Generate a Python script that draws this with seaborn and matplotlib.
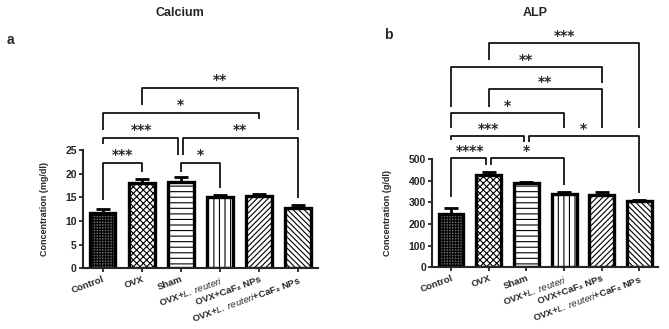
import numpy as np
import pandas as pd
import matplotlib
matplotlib.use('Agg')
import matplotlib.pyplot as plt
import seaborn as sns

# groups
grupos = ['Control', 'OVX', 'Sham', 'OVX+$\\it{L.\\ reuteri}$', 'OVX+CaF₂ NPs',
          'OVX+$\\it{L.\\ reuteri}$+CaF₂ NPs']

# calcium (mg/dl)
calcio = [11.7, 18.0, 18.2, 15.0, 15.3, 12.8]
calcio_sem = [0.9, 0.8, 1.1, 0.5, 0.4, 0.6]

# ALP (g/dl)
alp = [245, 425, 388, 338, 335, 308]
alp_sem = [28, 15, 6, 12, 15, 4]

# comparisons: (i, j, top, leg_i, leg_j, label)
sig_calcio = [
    (0, 1, 22.3, 14.4, 20.3, '***'),
    (2, 3, 22.3, 20.3, 17.0, '*'),
    (0, 2, 27.6, 26.3, 24.0, '***'),
    (2, 5, 27.6, 24.0, 14.8, '**'),
    (0, 4, 32.9, 29.3, 31.6, '*'),
    (1, 5, 38.2, 34.6, 29.3, '**'),
]
sig_alp = [
    (0, 1, 505, 324, 472, '****'),
    (1, 3, 505, 472, 380, '*'),
    (0, 2, 607, 588, 579, '***'),
    (2, 5, 607, 579, 343, '*'),
    (0, 3, 713, 643, 643, '*'),
    (1, 4, 824, 741, 643, '**'),
    (0, 4, 926, 741, 852, '**'),
    (1, 5, 1037, 958, 643, '***'),
]

hachuras = ['++++++', 'xxxxx', '---', '|||', '//////', '\\\\\\\\\\\\']
fundos = ['#666666', 'white', 'white', 'white', 'white', 'white']

sns.set_style('ticks')
plt.rcParams['font.family'] = ['Liberation Sans', 'DejaVu Sans']
plt.rcParams['hatch.linewidth'] = 0.8
plt.rcParams['mathtext.fontset'] = 'custom'
plt.rcParams['mathtext.it'] = 'Liberation Sans:italic'
plt.rcParams['mathtext.rm'] = 'Liberation Sans'

fig = plt.figure(figsize=(6.69, 3.29), dpi=100)
ax1 = fig.add_axes([0.124, 0.185, 0.351, 0.359])
ax2 = fig.add_axes([0.646, 0.188, 0.338, 0.328])


def painel(ax, vals, sem, sigs, ymax, passo, ylab, titulo, letra, tx, ty, lx):
    df = pd.DataFrame({'grupo': list(range(len(vals))), 'valor': vals})
    sns.barplot(data=df, x='grupo', y='valor', ax=ax, width=0.66,
                color='white', edgecolor='black', linewidth=2.4, errorbar=None)
    for p, h, f in zip(ax.patches, hachuras, fundos):
        p.set_hatch(h)
        p.set_facecolor(f)
    ax.errorbar(range(len(vals)), vals, yerr=[np.zeros(len(vals)), sem],
                fmt='none', ecolor='black', elinewidth=2, capsize=5, capthick=2)
    ax.set_ylim(0, ymax)
    ax.set_xlim(-0.5, 5.5)
    ax.set_yticks(np.arange(0, ymax + 1, passo))
    ax.set_yticklabels([str(int(v)) for v in np.arange(0, ymax + 1, passo)],
                       fontsize=7.5, fontweight='bold')
    ax.set_xticks(range(len(vals)))
    ax.set_xticklabels(grupos, rotation=20, ha='right', rotation_mode='anchor',
                       fontsize=6.8, fontweight='bold')
    ax.set_xlabel('')
    ax.set_ylabel(ylab, fontsize=6.5, fontweight='bold', labelpad=12)
    sns.despine(ax=ax)
    ax.spines['left'].set_linewidth(1.5)
    ax.spines['bottom'].set_linewidth(1.5)
    ax.tick_params(width=1.3, length=3, pad=1.5)
    esquerdas = {(s[0], s[2]) for s in sigs}
    direitas = {(s[1], s[2]) for s in sigs}
    for i, j, top, yi, yj, txt in sigs:
        # small gap where two brackets meet at the same bar
        xi = i + (0.06 if (i, top) in direitas else 0)
        xj = j - (0.06 if (j, top) in esquerdas else 0)
        ax.plot([xi, xi, xj, xj], [yi, top, top, yj], color='black', lw=1.2,
                clip_on=False, solid_capstyle='butt')
        ax.text((i + j) / 2, top + ymax * 0.065, txt, ha='center', va='center',
                fontsize=10, fontweight='bold', family='DejaVu Sans',
                clip_on=False)
    fig.text(tx, ty, titulo, ha='center', va='center', fontsize=9,
             fontweight='bold')
    fig.text(lx[0], lx[1], letra, ha='left', va='center', fontsize=10,
             fontweight='bold')


painel(ax1, calcio, calcio_sem, sig_calcio, 25, 5, 'Concentration (mg/dl)',
       'Calcium', 'a', 180 / 669, 1 - 13 / 329, (7 / 669, 1 - 40 / 329))
painel(ax2, alp, alp_sem, sig_alp, 500, 100, 'Concentration (g/dl)',
       'ALP', 'b', 535 / 669, 1 - 13 / 329, (384 / 669, 1 - 35 / 329))

plt.savefig('out.png', dpi=100)
